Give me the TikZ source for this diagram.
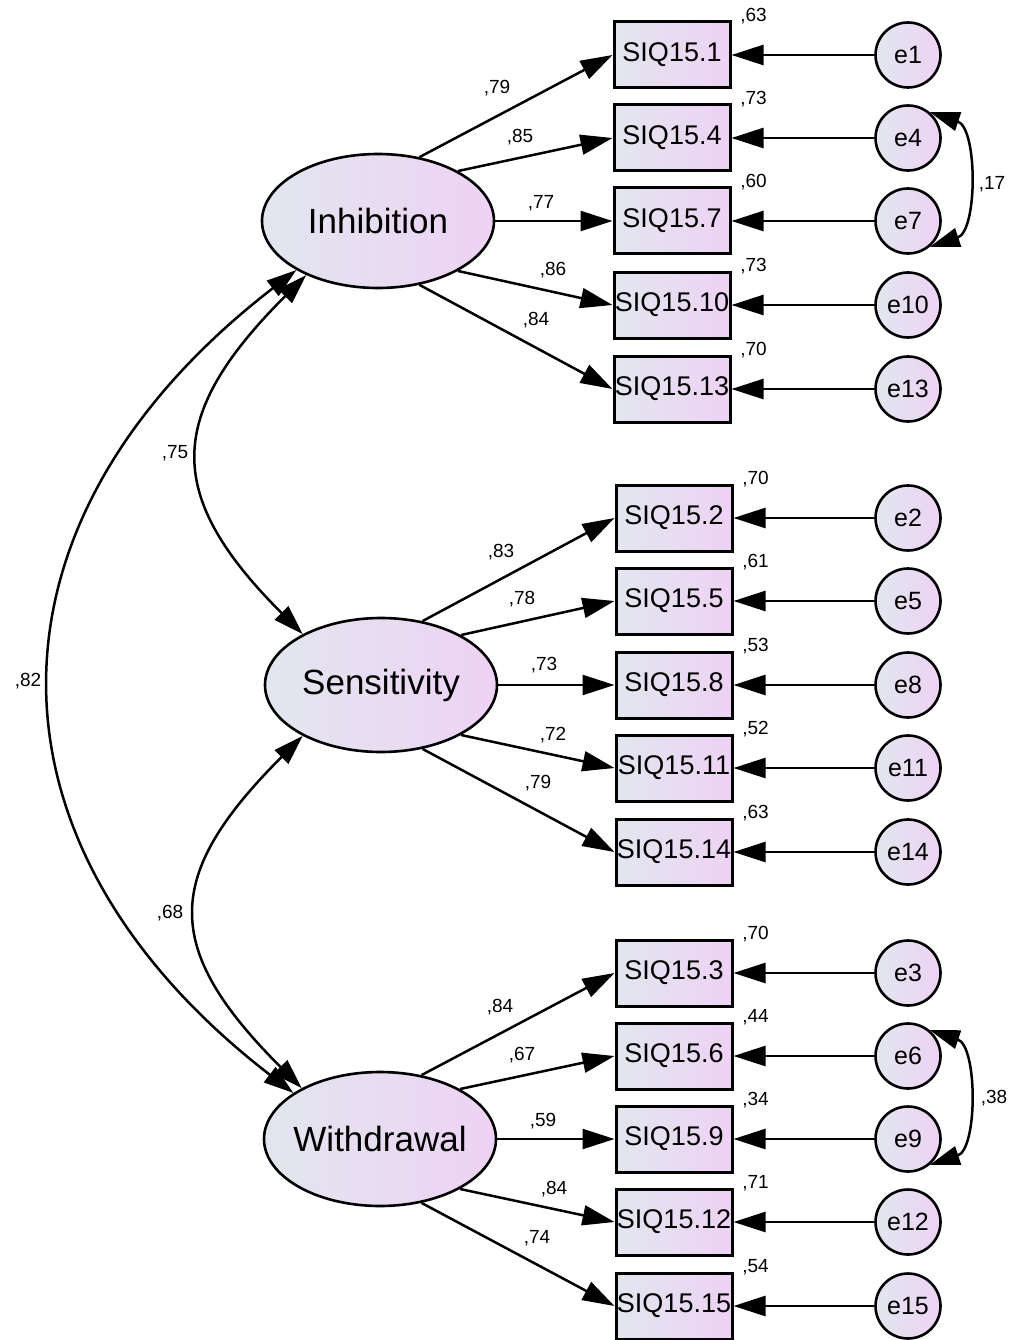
\documentclass[tikz,border=0pt]{standalone}
\usepackage{fontspec}
\setmainfont{Liberation Sans}
\usetikzlibrary{arrows.meta,shapes.geometric}
\definecolor{shadeL}{RGB}{226,230,239}
\definecolor{shadeR}{RGB}{238,210,244}

\begin{document}
\begin{tikzpicture}[
  x=1pt, y=-1pt,
  latent/.style={ellipse, draw, line width=2.6pt, left color=shadeL, right color=shadeR,
    minimum width=232pt, minimum height=134pt, inner xsep=-15pt, inner ysep=0pt,
    font=\fontsize{35}{40}\selectfont},
  item/.style={rectangle, draw, line width=3pt, left color=shadeL, right color=shadeR,
    minimum width=116pt, minimum height=66pt, inner sep=0pt, font=\fontsize{27}{30}\selectfont},
  err/.style={circle, draw, line width=2.6pt, left color=shadeL, right color=shadeR,
    minimum size=65pt, inner sep=0pt, font=\fontsize{25}{28}\selectfont},
  coef/.style={inner sep=0pt, font=\fontsize{19}{22}\selectfont},
  load/.style={-{Triangle[length=32pt,width=20pt]}, line width=2.5pt},
  cov/.style={{Triangle[length=30pt,width=19pt]}-{Triangle[length=30pt,width=19pt]}, line width=2.5pt}
]
\useasboundingbox (0,0) rectangle (1012,1340);

% factors
\node[latent] (inh) at (378,221) {Inhibition};
\node[latent] (sen) at (381,685) {Sensitivity};
\node[latent] (wit) at (380,1139) {Withdrawal};

% items, errors, loadings
\foreach \f/\bx/\i/\y/\a/\lx/\ly/\lo/\rs in {
  inh/672/1/55/57/497/88/79/63, inh/672/4/138/32/520/137/85/73,
  inh/672/7/221/0/541/203/77/60, inh/672/10/305/-32/553/270/86/73,
  inh/672/13/389/-57/536/320/84/70,
  sen/674/2/518/57/501/552/83/70, sen/674/5/601/32/522/599/78/61,
  sen/674/8/685/0/544/665/73/53, sen/674/11/768/-32/553/735/72/52,
  sen/674/14/852/-57/538/783/79/63,
  wit/674/3/973/57/500/1007/84/70, wit/674/6/1056/32/522/1055/67/44,
  wit/674/9/1139/0/543/1121/59/34, wit/674/12/1222/-32/554/1189/84/71,
  wit/674/15/1306/-57/537/1238/74/54}{
  \node[item] (b\i) at (\bx,\y) {SIQ15.\i};
  \node[err] (e\i) at (908,\y) {e\i};
  \node[coef, xshift=22pt, yshift=4pt] (r\i) at (b\i.north east) {,\rs};
  \node[coef] (l\i) at (\lx,\ly) {,\lo};
  \draw[load] (\f.\a) -- (b\i.west);
  \draw[load] (e\i.west) -- (b\i.east);
}

% factor covariances
\draw[cov] (inh.217) .. controls +(-140,140) and +(-140,-140) .. (sen.147);
\draw[cov] (sen.213) .. controls +(-140,140) and +(-140,-140) .. (wit.147);
\draw[cov] (inh.211) .. controls +(-324,250) and +(-324,-250) .. (wit.152);
\node[coef] (c75) at (175,453) {,75};
\node[coef] (c68) at (170,913) {,68};
\node[coef] (c82) at (28,681) {,82};

% error covariances
\draw[cov] (e4.50) .. controls +(48,16) and +(48,-16) .. (e7.-50);
\draw[cov] (e6.50) .. controls +(48,16) and +(48,-16) .. (e9.-50);
\node[coef] (c17) at (992,184) {,17};
\node[coef] (c38) at (994,1098) {,38};
\end{tikzpicture}
\end{document}
